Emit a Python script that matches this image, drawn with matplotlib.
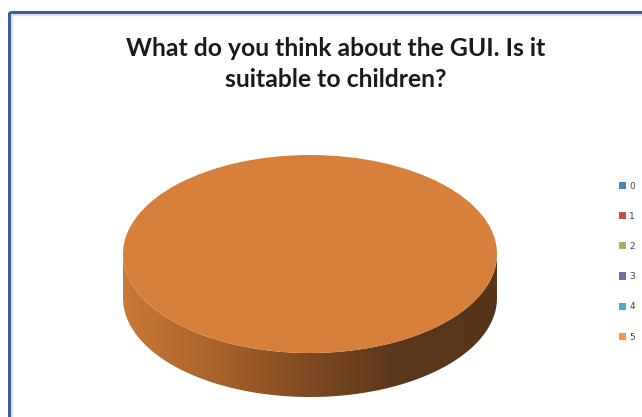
import numpy as np
import matplotlib.pyplot as plt
from matplotlib.patches import Patch, Polygon, Rectangle
from matplotlib.colors import LinearSegmentedColormap

# --- data ---
categories = ['0', '1', '2', '3', '4', '5']
counts = [0, 0, 0, 0, 0, 20]
legend_colors = ['#4f81bd', '#c0504d', '#9bbb59', '#8064a2', '#4bacc6', '#f79646']
top_colors = ['#4f81bd', '#c0504d', '#9bbb59', '#8064a2', '#4bacc6', '#d6803c']
title = "What do you think about the GUI. Is it\nsuitable to children?"

W, H = 642, 417
fig = plt.figure(figsize=(W / 100, H / 100), dpi=100)
fig.patch.set_facecolor('white')

# frame (runs off the right and bottom edges, like the screenshot)
frame = fig.add_axes([0, 0, 1, 1])
frame.set_xlim(0, W)
frame.set_ylim(H, 0)
frame.axis('off')
frame.add_patch(Rectangle((11, 14), W, H, fill=False, ec='#e2e2e2', lw=2.5))
frame.add_patch(Rectangle((8.5, 11.5), W, H, fill=False, ec='#3b6096', lw=2.2))

fig.text(0.523, 1 - 64 / H, title, ha='center', va='center', fontsize=17.8,
         fontweight='bold', family='Lato', color='#1a1a1a', linespacing=1.42)

# --- 3D pie: top ellipse in unit coords, side band below ---
cx, cy, a, b, depth = 310, 254, 187, 99, 44
ax = fig.add_axes([(cx - a) / W, (H - (cy + b + depth)) / H, 2 * a / W, (2 * b + depth) / H])
ax.set_xlim(-1, 1)
ax.set_ylim(-1 - depth / b, 1)
ax.set_aspect('auto')
ax.axis('off')

d = depth / b
t = np.linspace(np.pi, 2 * np.pi, 200)
xs = np.cos(t)
ys = np.sin(t)
band = np.concatenate([np.column_stack([xs, ys]), np.column_stack([xs[::-1], ys[::-1] - d])])
poly = Polygon(band, closed=True, fc='none', ec='none')
ax.add_patch(poly)
side_cmap = LinearSegmentedColormap.from_list('side', [
    (0.0, '#c87a38'), (0.25, '#a9622b'), (0.5, '#7e4a22'),
    (0.72, '#5c381b'), (1.0, '#57351a')])
grad = np.linspace(0, 1, 256).reshape(1, -1)
img = ax.imshow(grad, cmap=side_cmap, extent=[-1, 1, -1 - d, 0.05], aspect='auto', zorder=1)
img.set_clip_path(poly)

wedges, _ = ax.pie(counts, colors=top_colors, startangle=90, counterclock=False,
                   radius=1, wedgeprops=dict(linewidth=0))
for w in wedges:
    w.set_zorder(2)
ax.set_xlim(-1, 1)
ax.set_ylim(-1 - d, 1)
ax.set_aspect('auto')

handles = [Patch(facecolor=c, edgecolor='none') for c in legend_colors]
fig.legend(handles, categories, loc='upper left', bbox_to_anchor=(614 / W, 1 - 177 / H),
           frameon=False, fontsize=6.5, handlelength=0.85, handleheight=0.85,
           handletextpad=0.35, labelspacing=2.35, borderpad=0, labelcolor='#444444')

fig.savefig('out.png', dpi=100)
